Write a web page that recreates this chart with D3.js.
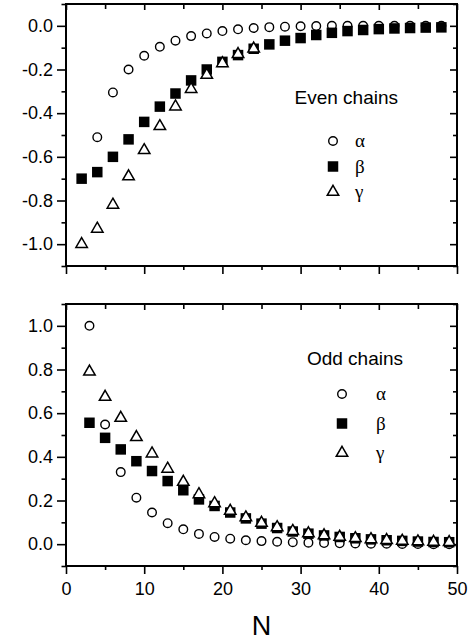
<!DOCTYPE html>
<html><head><meta charset="utf-8">
<script src="https://cdn.jsdelivr.net/npm/d3@7"></script>
<style>body{margin:0;background:#fff}svg{display:block}</style>
</head><body>
<svg id="c" width="473" height="643"></svg>
<script>
// ---- data ----
const evenN     = [2,4,6,8,10,12,14,16,18,20,22,24,26,28,30,32,34,36,38,40,42,44,46,48];
const evenAlphaN= [4,6,8,10,12,14,16,18,20,22,24,26,28,30,32,34,36,38,40,42,44,46,48];
const evenAlpha = [-0.51,-0.305,-0.20,-0.137,-0.096,-0.068,-0.047,-0.035,-0.024,-0.016,-0.010,-0.006,-0.004,-0.002,-0.001,0.0,0.0,0.0,0.0,0.0,0.0,0.0,0.0];
const evenBeta  = [-0.70,-0.67,-0.60,-0.52,-0.44,-0.37,-0.31,-0.25,-0.20,-0.165,-0.134,-0.105,-0.085,-0.068,-0.056,-0.042,-0.032,-0.024,-0.019,-0.015,-0.012,-0.010,-0.008,-0.007];
const evenGammaN= [2,4,6,8,10,12,14,16,18,20,22,24];
const evenGamma = [-1.0,-0.93,-0.82,-0.69,-0.57,-0.46,-0.37,-0.29,-0.225,-0.172,-0.13,-0.105];

const oddN      = [3,5,7,9,11,13,15,17,19,21,23,25,27,29,31,33,35,37,39,41,43,45,47,49];
const oddAlpha  = [1.0,0.548,0.33,0.213,0.145,0.096,0.068,0.047,0.033,0.025,0.018,0.014,0.011,0.009,0.007,0.005,0.004,0.003,0.002,0.002,0.001,0.001,0.0,0.0];
const oddBeta   = [0.556,0.487,0.434,0.38,0.335,0.289,0.247,0.205,0.175,0.145,0.118,0.094,0.074,0.058,0.048,0.040,0.033,0.027,0.022,0.018,0.015,0.012,0.010,0.009];
const oddGamma  = [0.79,0.674,0.578,0.49,0.415,0.345,0.285,0.228,0.187,0.152,0.122,0.097,0.077,0.060,0.049,0.040,0.033,0.027,0.022,0.018,0.015,0.012,0.010,0.009];

const xMajor = [0,10,20,30,40,50];
const xMinor = [5,15,25,35,45];
const evenYMajor = [0.0,-0.2,-0.4,-0.6,-0.8,-1.0];
const evenYMinor = [0.1,-0.1,-0.3,-0.5,-0.7,-0.9,-1.1];
const oddYMajor  = [0.0,0.2,0.4,0.6,0.8,1.0];
const oddYMinor  = [-0.1,0.1,0.3,0.5,0.7,0.9,1.1];
const seriesLabels = ["\u03B1","\u03B2","\u03B3"];
const panelTitles = ["Even chains","Odd chains"];
const xTitle = "N";

// ---- drawing ----
const svg = d3.select("#c");
const L = 66, R = 457;
const FONT = "'Liberation Sans', Arial, Helvetica, sans-serif";
const x = d3.scaleLinear().domain([0,50]).range([L,R]);
const fmt = d => (Math.abs(d) < 1e-9 ? 0 : d).toFixed(1);

const symCircle = d3.symbol().type(d3.symbolCircle).size(Math.PI*4.3*4.3);
const symSquare = d3.symbol().type(d3.symbolSquare).size(10.5*10.5);
const symTri    = d3.symbol().type(d3.symbolTriangle).size(11.5*11.5*Math.sqrt(3)/4);

function drawMarkers(g, type, xs, ys, y){
  const pts = xs.map((n,i)=>({n, v: ys[i]}));
  const sel = g.append("g").selectAll("path").data(pts).join("path")
    .attr("transform", d=>`translate(${x(d.n)},${y(d.v)})`);
  styleSym(sel, type);
}
function styleSym(sel, type){
  if(type==="a") sel.attr("d", symCircle()).attr("fill","#fff").attr("stroke","#000").attr("stroke-width",1.4);
  if(type==="b") sel.attr("d", symSquare()).attr("fill","#000").attr("stroke","none");
  if(type==="g") sel.attr("d", symTri()).attr("fill","#fff").attr("stroke","#000").attr("stroke-width",1.5);
}

function panel(o){
  const y = d3.scaleLinear().domain(o.domain).range([o.B, o.T]);
  const g = svg.append("g");
  const tickStyle = a => { a.select(".domain").remove(); a.selectAll("line").attr("stroke","#000").attr("stroke-width",1.6); a.selectAll("text").attr("fill","#000").style("font-family",FONT).style("font-size","18px"); };
  // left: outward
  g.append("g").attr("transform",`translate(${L},0)`).call(d3.axisLeft(y).tickValues(o.yMajor).tickSize(9).tickPadding(4).tickFormat(fmt)).call(tickStyle);
  g.append("g").attr("transform",`translate(${L},0)`).call(d3.axisLeft(y).tickValues(o.yMinor).tickSize(4.5).tickFormat("")).call(tickStyle);
  // right: inward
  g.append("g").attr("transform",`translate(${R},0)`).call(d3.axisRight(y).tickValues(o.yMajor).tickSize(-7).tickFormat("")).call(tickStyle);
  g.append("g").attr("transform",`translate(${R},0)`).call(d3.axisRight(y).tickValues(o.yMinor).tickSize(-4).tickFormat("")).call(tickStyle);
  // bottom: outward
  g.append("g").attr("transform",`translate(0,${o.B})`).call(d3.axisBottom(x).tickValues(xMajor).tickSize(8).tickPadding(8).tickFormat(o.xLabels ? d3.format("d") : "")).call(tickStyle);
  g.append("g").attr("transform",`translate(0,${o.B})`).call(d3.axisBottom(x).tickValues(xMinor).tickSize(4).tickFormat("")).call(tickStyle);
  // top: inward
  g.append("g").attr("transform",`translate(0,${o.T})`).call(d3.axisTop(x).tickValues(xMajor).tickSize(-6).tickFormat("")).call(tickStyle);
  g.append("g").attr("transform",`translate(0,${o.T})`).call(d3.axisTop(x).tickValues(xMinor).tickSize(-5).tickFormat("")).call(tickStyle);

  // markers
  drawMarkers(g, "a", o.aN, o.a, y);
  drawMarkers(g, "b", o.bN, o.b, y);
  drawMarkers(g, "g", o.gN, o.gm, y);

  // frame
  g.append("rect").attr("x",L).attr("y",o.T).attr("width",R-L).attr("height",o.B-o.T)
    .attr("fill","none").attr("stroke","#000").attr("stroke-width",2);

  // legend
  g.append("text").attr("x",o.titleX).attr("y",o.titleY).attr("text-anchor","end")
    .style("font-family",FONT).style("font-size","19px").text(o.title);
  ["a","b","g"].forEach((t,i)=>{
    const yy = o.legY + i*o.legDY;
    styleSym(g.append("path").attr("transform",`translate(${o.legX},${yy})`), t);
    g.append("text").attr("x",o.legTX).attr("y",yy).attr("dy","0.32em")
      .style("font-family","'Liberation Serif','Times New Roman',serif").style("font-size","19px").text(seriesLabels[i]);
  });
}

panel({T:4, B:266, domain:[-1.1,0.1], yMajor:evenYMajor, yMinor:evenYMinor, xLabels:false,
  aN:evenAlphaN, a:evenAlpha, bN:evenN, b:evenBeta, gN:evenGammaN, gm:evenGamma,
  title:panelTitles[0], titleX:398, titleY:104, legX:333, legTX:355, legY:141, legDY:25.5});
panel({T:304, B:566, domain:[-0.1,1.1], yMajor:oddYMajor, yMinor:oddYMinor, xLabels:true,
  aN:oddN, a:oddAlpha, bN:oddN, b:oddBeta, gN:oddN, gm:oddGamma,
  title:panelTitles[1], titleX:403, titleY:365, legX:342, legTX:376, legY:394, legDY:29.5});

svg.append("text").attr("x",(L+R)/2).attr("y",635).attr("text-anchor","middle")
  .style("font-family",FONT).style("font-size","27px").text(xTitle);
</script>
</body></html>
